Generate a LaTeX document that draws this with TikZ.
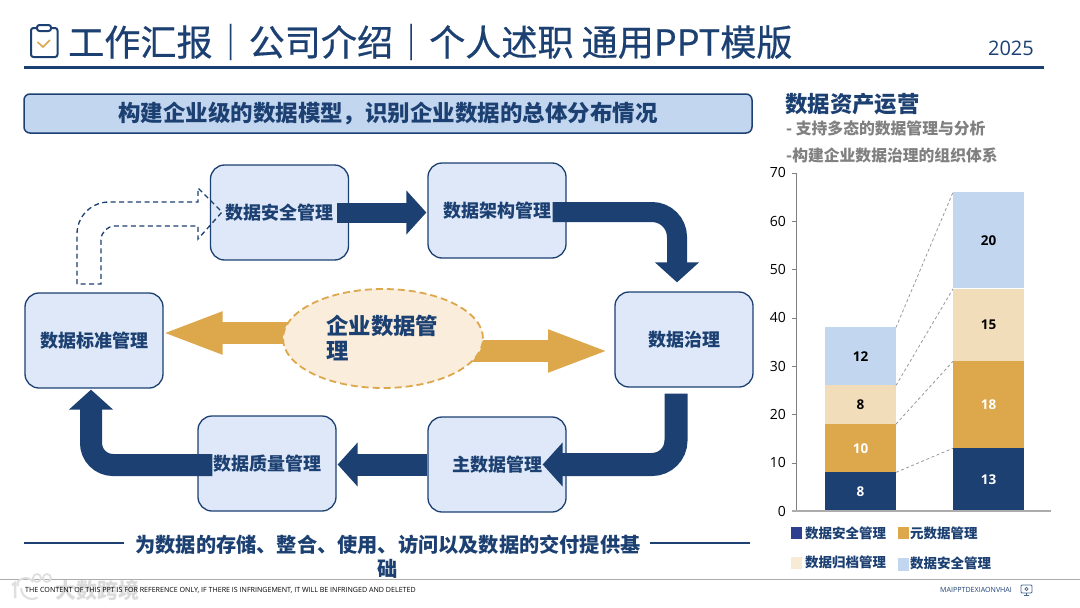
\documentclass[tikz,border=0pt]{standalone}
\usepackage{fontspec}
\setmainfont{Noto Sans CJK SC}
\newfontfamily\latinfont{Open Sans}
\newfontfamily\titlefont[FakeBold=0.5]{Noto Sans CJK SC}
\usetikzlibrary{arrows.meta,calc,shapes.geometric}
\definecolor{navy}{HTML}{1C4072}
\definecolor{gold}{HTML}{DDA74B}
\definecolor{sand}{HTML}{F2DDBA}
\definecolor{sky}{HTML}{C3D6EF}
\definecolor{pale}{HTML}{DEE8F8}
\definecolor{cream}{HTML}{FAEDDB}
\definecolor{indigo}{HTML}{2F3F8F}
\tikzset{
 stagebox/.style={draw=navy,fill=pale,line width=1.3pt,rounded corners=14pt,minimum width=138pt,minimum height=95pt,inner sep=0pt},
 stagename/.style={text=navy,font=\fontsize{18}{20}\selectfont\bfseries,inner sep=0pt},
 navyarrow/.style={navy,line width=#1,-{Triangle[width=43pt,length=20pt]}},
 navyarrow/.default=22pt,
 goldarrow/.style={gold,line width=22pt,shorten >=-3pt,-{Triangle[width=38pt,length=62pt]}},
 barlabel/.style={font=\latinfont\fontsize{13.5}{15}\selectfont\bfseries},
 ticklabel/.style={anchor=east,font=\latinfont\fontsize{14}{16}\selectfont,inner sep=0pt},
 keytext/.style={anchor=west,text=navy,inner sep=0pt,font=\fontsize{13.5}{16}\selectfont\bfseries},
 greynote/.style={anchor=west,text=gray,inner sep=0pt,font=\fontsize{15.8}{18}\selectfont\bfseries},
 smallprint/.style={anchor=west,inner sep=0pt,font=\latinfont\fontsize{7.1}{9}\selectfont},
}
\begin{document}
\begin{tikzpicture}[x=1pt,y=-1pt,>=Latex]
 \useasboundingbox (0,0) rectangle (1080,608);
 \fill[white] (0,0) rectangle (1080,608);
 % title
 \draw[navy,line width=2pt,rounded corners=2.5pt] (36,28)--(31,28)--(31,57)--(57.5,57)--(57.5,28)--(52,28);
 \draw[navy,line width=2pt,rounded corners=2.5pt] (37,25)--(51,25)--(51,31)--(37,31)--cycle;
 \draw[gold,line width=1.6pt] (37.5,42)--(43,47)--(50,40);
 \node[anchor=west,text=navy,inner sep=0pt,font=\titlefont\fontsize{36.1}{40}\selectfont] (headline) at (68,42) {工作汇报｜公司介绍｜个人述职 通用PPT模版};
 \node[anchor=east,text=navy,inner sep=0pt,font=\latinfont\fontsize{20}{24}\selectfont] (year) at (1034,48) {2025};
 \draw[navy,line width=2.4pt] (24,67.5)--(1044,67.5);
 \node[draw=navy,fill=sky,line width=1.5pt,rounded corners=6pt,minimum width=728pt,minimum height=39pt,text=navy,inner sep=0pt,font=\fontsize{22.5}{26}\selectfont\bfseries] (banner) at (388,113.5) {构建企业级的数据模型，识别企业数据的总体分布情况};
 % stages
 \node[stagebox] (safe) at (279.5,212.5) {};
 \node[stagebox] (arch) at (497,210.5) {};
 \node[stagebox] (gov) at (684,339.5) {};
 \node[stagebox] (master) at (497,464.5) {};
 \node[stagebox] (quality) at (267,463.5) {};
 \node[stagebox] (standard) at (94,340.5) {};
 % arrows round the stages
 \coordinate (safeout) at ([xshift=-12pt]safe.east);
 \coordinate (archout) at ([xshift=-14pt,yshift=-1.5pt]arch.east);
 \coordinate (govout) at ([xshift=-8pt,yshift=-6pt]gov.south);
 \coordinate (qualityout) at ([xshift=15pt,yshift=-1.5pt]quality.west);
 \draw[navyarrow=20pt,shorten >=1pt] (safeout) -- (arch.west |- safeout);
 \draw[navyarrow=20pt,rounded corners=25pt,shorten >=9pt] (archout) -| (gov.north -| 677,0);
 \draw[navyarrow=23pt,rounded corners=24pt,shorten >=-24pt] (govout) |- (master.east);
 \draw[navyarrow,shorten >=1pt] (master.west) -- (quality.east |- master.west);
 \draw[navyarrow,rounded corners=22pt,shorten >=1pt] (qualityout) -| (standard.south -| 91,0);
 \draw[navy,dashed,dash pattern=on 5pt off 3.5pt,line width=1.3pt] (77,284) [rounded corners=32pt] -- (77,202) [rounded corners=0pt] -- (198,202) -- (198,188) -- (222,212) -- (198,239) -- (198,226) [rounded corners=14pt] -- (101,226) [rounded corners=0pt] -- (101,284) -- cycle;
 % stage names go over the arrows
 \node[stagename] (safename) at (safe) {数据安全管理};
 \node[stagename] (archname) at (arch) {数据架构管理};
 \node[stagename] (govname) at (gov) {数据治理};
 \node[stagename] (mastername) at (master) {主数据管理};
 \node[stagename] (qualityname) at (quality) {数据质量管理};
 \node[stagename] (standardname) at (standard) {数据标准管理};
 % centre
 \coordinate (hub) at (383,338.5);
 \draw[goldarrow] ([yshift=5.5pt]hub) -- (standard.east |- 0,333) ;
 \draw[goldarrow] ([yshift=-12.5pt]hub) -- (607,351);
 \node[ellipse,draw=gold,fill=cream,dashed,dash pattern=on 7pt off 4pt,line width=1.8pt,minimum width=200pt,minimum height=99pt,inner sep=0pt] (hubshape) at (hub) {};
 \node[anchor=north west,text=navy,inner sep=0pt,align=left,font=\fontsize{22.4}{25}\selectfont\bfseries] (hubtext) at (326,314.5) {企业数据管\\理};
 % bottom line
 \draw[navy,line width=2.4pt] (24,543)--(124,543);
 \draw[navy,line width=2.4pt] (650,543)--(750,543);
 \node[text=navy,inner sep=0pt,align=center,font=\fontsize{20.2}{24}\selectfont\bfseries] (closing) at (388,557) {为数据的存储、整合、使用、访问以及数据的交付提供基\\础};
 % right panel
 \node[anchor=west,text=navy,inner sep=0pt,font=\fontsize{22.4}{26}\selectfont\bfseries] (paneltitle) at (785,104) {数据资产运营};
 \node[greynote] (noteone) at (786,128) {- 支持多态的数据管理与分析};
 \node[greynote] (notetwo) at (786,155) {-构建企业数据治理的组织体系};
 % chart
 \foreach \v in {0,10,...,70}{
  \draw[gray] (792,511-\v*4.83)--(796,511-\v*4.83);
  \node[ticklabel] (tick\v) at (786,511-\v*4.83) {\v};
 }
 \foreach \x/\a/\b/\c/\d in {825/8/10/8/12,953/13/18/15/20}{
  \pgfmathsetmacro{\ya}{511-\a*4.83}
  \pgfmathsetmacro{\yb}{\ya-\b*4.83}
  \pgfmathsetmacro{\yc}{\yb-\c*4.83}
  \pgfmathsetmacro{\yd}{\yc-\d*4.83}
  \fill[navy] (\x,511) rectangle (\x+71,\ya);
  \fill[gold] (\x,\ya-.5) rectangle (\x+71,\yb);
  \fill[sand] (\x,\yb-.5) rectangle (\x+71,\yc);
  \fill[sky] (\x,\yc-.5) rectangle (\x+71,\yd);
  \node[barlabel,text=white] (bar\x a) at (\x+35.5,511/2+\ya/2) {\a};
  \node[barlabel,text=white] (bar\x b) at (\x+35.5,\ya/2+\yb/2) {\b};
  \node[barlabel] (bar\x c) at (\x+35.5,\yb/2+\yc/2) {\c};
  \node[barlabel] (bar\x d) at (\x+35.5,\yc/2+\yd/2) {\d};
 }
 \foreach \a/\b in {8/13,18/31,26/46,38/66}
  \draw[gray!80,dashed,dash pattern=on 3pt off 2.5pt,line width=.8pt] (896,511-\a*4.83)--(953,511-\b*4.83);
 \draw[gray,line width=.9pt] (796.5,173)--(796.5,511);
 \draw[gray!65,line width=1.1pt] (792,511)--(1051,511);
 % legend
 \fill[indigo] (791,527) rectangle (802,539);
 \fill[gold] (898,527) rectangle (909,539);
 \fill[sand!60] (791,557) rectangle (802,569);
 \fill[sky] (898,558) rectangle (909,571);
 \node[keytext] (keya) at (805,533) {数据安全管理};
 \node[keytext] (keyb) at (910,533) {元数据管理};
 \node[keytext] (keyc) at (805,562) {数据归档管理};
 \node[keytext] (keyd) at (910,563) {数据安全管理};
 % footer
 \draw[gray!65,line width=.8pt] (0,579.5)--(1080,579.5);
 \draw[gray!25,line width=2.5pt] (12,585)--(15,583)--(15,598);
 \draw[gray!25,line width=2pt] (33,582) arc (20:200:8pt and 6pt);
 \draw[gray!25,line width=2pt] (21,588) arc (180:300:11pt);
 \draw[gray!25,line width=1.8pt] (37,578) circle (4pt) (47,578) circle (4pt);
 \node[anchor=west,text=gray!28,inner sep=0pt,font=\fontsize{21}{23}\selectfont\bfseries] (mark) at (55,590) {大数跨境};
 \node[smallprint] (disclaimer) at (25,590) {THE CONTENT OF THIS PPT IS FOR REFERENCE ONLY, IF THERE IS INFRINGEMENT, IT WILL BE INFRINGED AND DELETED};
 \node[smallprint,text=navy] (brand) at (940,590) {MAIPPTDEXIAONVHAI};
 \draw[navy!80,line width=.8pt,rounded corners=1pt] (1021,585) rectangle (1032,593);
 \draw[navy!80,line width=.8pt] (1026.5,589) circle (1.6pt) (1024,595.5)--(1029,595.5) (1026.5,593)--(1026.5,595.5);
\end{tikzpicture}
\end{document}
